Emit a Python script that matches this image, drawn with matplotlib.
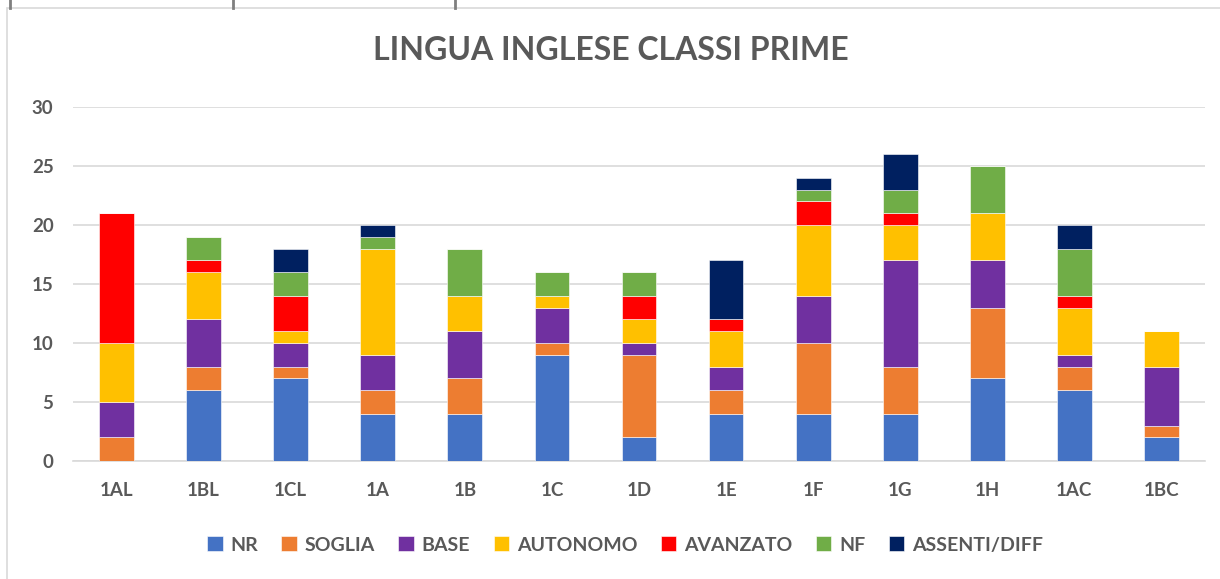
import numpy as np
import matplotlib
matplotlib.use('Agg')
import matplotlib.pyplot as plt
from matplotlib.patches import Rectangle
from matplotlib.lines import Line2D

plt.rcParams['font.family'] = ['Lato', 'DejaVu Sans']

classi = ['1AL', '1BL', '1CL', '1A', '1B', '1C', '1D', '1E', '1F', '1G', '1H', '1AC', '1BC']
nr        = [0, 6, 7, 4, 4, 9, 2, 4, 4, 4, 7, 6, 2]
soglia    = [2, 2, 1, 2, 3, 1, 7, 2, 6, 4, 6, 2, 1]
base      = [3, 4, 2, 3, 4, 3, 1, 2, 4, 9, 4, 1, 5]
autonomo  = [5, 4, 1, 9, 3, 1, 2, 3, 6, 3, 4, 4, 3]
avanzato  = [11, 1, 3, 0, 0, 0, 2, 1, 2, 1, 0, 1, 0]
nf        = [0, 2, 2, 1, 4, 2, 2, 0, 1, 2, 4, 4, 0]
assenti   = [0, 0, 2, 1, 0, 0, 0, 5, 1, 3, 0, 2, 0]

serie = ['NR', 'SOGLIA', 'BASE', 'AUTONOMO', 'AVANZATO', 'NF', 'ASSENTI/DIFF']
valori = [nr, soglia, base, autonomo, avanzato, nf, assenti]
colori = ['#4472C4', '#ED7D31', '#7030A0', '#FFC000', '#FF0000', '#70AD47', '#002060']

grigio = '#595959'
W, H = 1220, 579
fig = plt.figure(figsize=(W / 100, H / 100), dpi=100)

# chart frame and the spreadsheet cell borders behind it
fig.patches.append(Rectangle((7 / W, -0.1), 1.2, 1 - 8 / H + 0.1, transform=fig.transFigure,
                             facecolor='none', edgecolor='#d9d9d9', linewidth=1.2, zorder=0))
for xx in [10, 233, 455]:
    fig.add_artist(Line2D([xx / W, xx / W], [1, 1 - 8 / H], transform=fig.transFigure,
                          color='#7f7f7f', linewidth=2))

ax = fig.add_axes([73 / W, 1 - 461 / H, (1205 - 73) / W, (461 - 107) / H])
ax.set_facecolor('none')

x = np.arange(len(classi))
bottom = np.zeros(len(classi))
for nome, v, c in zip(serie, valori, colori):
    ax.bar(x, v, width=0.4, bottom=bottom, color=c, label=nome,
           edgecolor='white', linewidth=0.4, zorder=3)
    bottom += np.array(v)

ax.set_xlim(-0.5, len(classi) - 0.5)
ax.set_ylim(0, 30)
ax.set_yticks(range(0, 31, 5))
ax.set_xticks(x)
ax.set_xticklabels(classi)
ax.grid(axis='y', color='#d9d9d9', linewidth=1.2, zorder=0)
for s in ['top', 'right', 'left']:
    ax.spines[s].set_visible(False)
ax.spines['bottom'].set_color('#d9d9d9')
ax.spines['bottom'].set_linewidth(1.2)
ax.tick_params(axis='both', length=0, labelsize=13.5, labelcolor=grigio)
ax.tick_params(axis='y', pad=14)
ax.tick_params(axis='x', pad=15)
for t in ax.get_xticklabels() + ax.get_yticklabels():
    t.set_fontweight('bold')

fig.text(611 / W, 1 - 50 / H, 'LINGUA INGLESE CLASSI PRIME', ha='center', va='center',
         fontsize=23, fontweight='bold', color=grigio)

leg = fig.legend(loc='center', bbox_to_anchor=(625 / W, 1 - 545 / H), ncol=7, frameon=False,
                 fontsize=14, handlelength=0.8, handleheight=0.8, handletextpad=0.4,
                 columnspacing=1.2)
for t in leg.get_texts():
    t.set_color(grigio)
    t.set_fontweight('bold')

fig.savefig('out.png', dpi=100)
